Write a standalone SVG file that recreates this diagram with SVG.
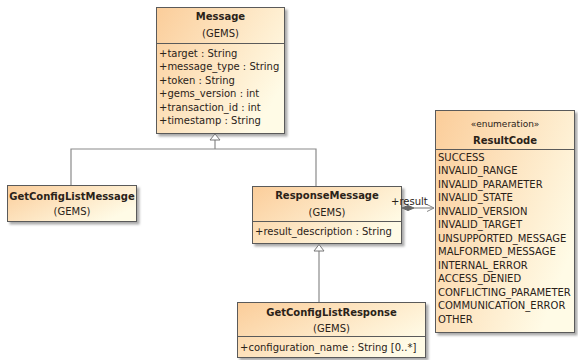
<svg xmlns="http://www.w3.org/2000/svg" width="578" height="360" viewBox="0 0 578 360">
<defs>
<linearGradient id="fill" x1="0" y1="0" x2="1" y2="0.6">
<stop offset="0" stop-color="#fbcd9a"/>
<stop offset="1" stop-color="#fffbe6"/>
</linearGradient>
<marker id="open" markerWidth="10" markerHeight="10" refX="8" refY="5" orient="auto" markerUnits="userSpaceOnUse">
<path d="M1,1.5 L8,5 L1,8.5" fill="none" stroke="#888" stroke-width="1"/>
</marker>
<filter id="sh" x="-10%" y="-10%" width="130%" height="130%">
<feDropShadow dx="2.5" dy="2.5" stdDeviation="1" flood-color="#888" flood-opacity="0.7"/>
</filter>
</defs>
<style>
.box{fill:url(#fill);stroke:#5a5a5a;stroke-width:1;filter:url(#sh)}
.sep{stroke:#5a5a5a;stroke-width:1}
text{font-family:"DejaVu Sans","Noto Sans",sans-serif;font-size:10px;fill:#2a2218}
.t{font-weight:bold;text-anchor:middle}
.c{text-anchor:middle}
.ln{fill:none;stroke:#8a8a8a;stroke-width:1.2}
.tri{fill:#fff;stroke:#777;stroke-width:1}
</style>
<g id="Message">
<rect class="box" x="156.5" y="7.5" width="128" height="126"/>
<line class="sep" x1="156.5" y1="43.5" x2="284.5" y2="43.5"/>
<text class="t" x="220.5" y="20">Message</text>
<text class="c" x="220.5" y="36.5">(GEMS)</text>
<text x="159" y="56.5">+target : String</text>
<text x="159" y="70">+message_type : String</text>
<text x="159" y="83.5">+token : String</text>
<text x="159" y="97">+gems_version : int</text>
<text x="159" y="110.5">+transaction_id : int</text>
<text x="159" y="124">+timestamp : String</text>
</g>
<g id="GetConfigListMessage">
<rect class="box" x="7.5" y="185.5" width="129" height="36"/>
<text class="t" x="72" y="199.5">GetConfigListMessage</text>
<text class="c" x="72" y="215">(GEMS)</text>
</g>
<g id="ResponseMessage">
<rect class="box" x="252.5" y="186.5" width="149" height="57"/>
<line class="sep" x1="252.5" y1="221.5" x2="401.5" y2="221.5"/>
<text class="t" x="327" y="198.5">ResponseMessage</text>
<text class="c" x="327" y="215.5">(GEMS)</text>
<text x="255" y="234.5">+result_description : String</text>
</g>
<g id="GetConfigListResponse">
<rect class="box" x="237.5" y="302.5" width="188" height="55"/>
<line class="sep" x1="237.5" y1="336.5" x2="425.5" y2="336.5"/>
<text class="t" x="331.5" y="315.5">GetConfigListResponse</text>
<text class="c" x="331.5" y="331.5">(GEMS)</text>
<text x="240" y="350.5">+configuration_name : String [0..*]</text>
</g>
<g id="ResultCode">
<rect class="box" x="435.5" y="110.5" width="139" height="222"/>
<line class="sep" x1="435.5" y1="149.5" x2="574.5" y2="149.5"/>
<text class="c" x="505" y="126.5" style="font-size:9px">«enumeration»</text>
<text class="t" x="505" y="143.5">ResultCode</text>
<text x="438" y="160.5">SUCCESS</text>
<text x="438" y="174">INVALID_RANGE</text>
<text x="438" y="187.5">INVALID_PARAMETER</text>
<text x="438" y="201">INVALID_STATE</text>
<text x="438" y="214.5">INVALID_VERSION</text>
<text x="438" y="228">INVALID_TARGET</text>
<text x="438" y="241.5">UNSUPPORTED_MESSAGE</text>
<text x="438" y="255">MALFORMED_MESSAGE</text>
<text x="438" y="268.5">INTERNAL_ERROR</text>
<text x="438" y="282">ACCESS_DENIED</text>
<text x="438" y="295.5">CONFLICTING_PARAMETER</text>
<text x="438" y="309">COMMUNICATION_ERROR</text>
<text x="438" y="322.5">OTHER</text>
</g>
<g id="connectors">
<path class="ln" d="M71,185 V149 H316 V186"/>
<path class="ln" d="M215,149 V140"/>
<polygon class="tri" points="215,134 210,140 220,140"/>
<path class="ln" d="M319,302 V251"/>
<polygon class="tri" points="319,244.5 314,251 324,251"/>
<path class="ln" d="M414,208 H434" marker-end="url(#open)"/>
<path d="M402,208 L408,205.5 L414,208 L408,210.5 Z" fill="#666" stroke="#666" stroke-width="1"/>
<text x="391" y="205">+result</text>
</g>
</svg>
